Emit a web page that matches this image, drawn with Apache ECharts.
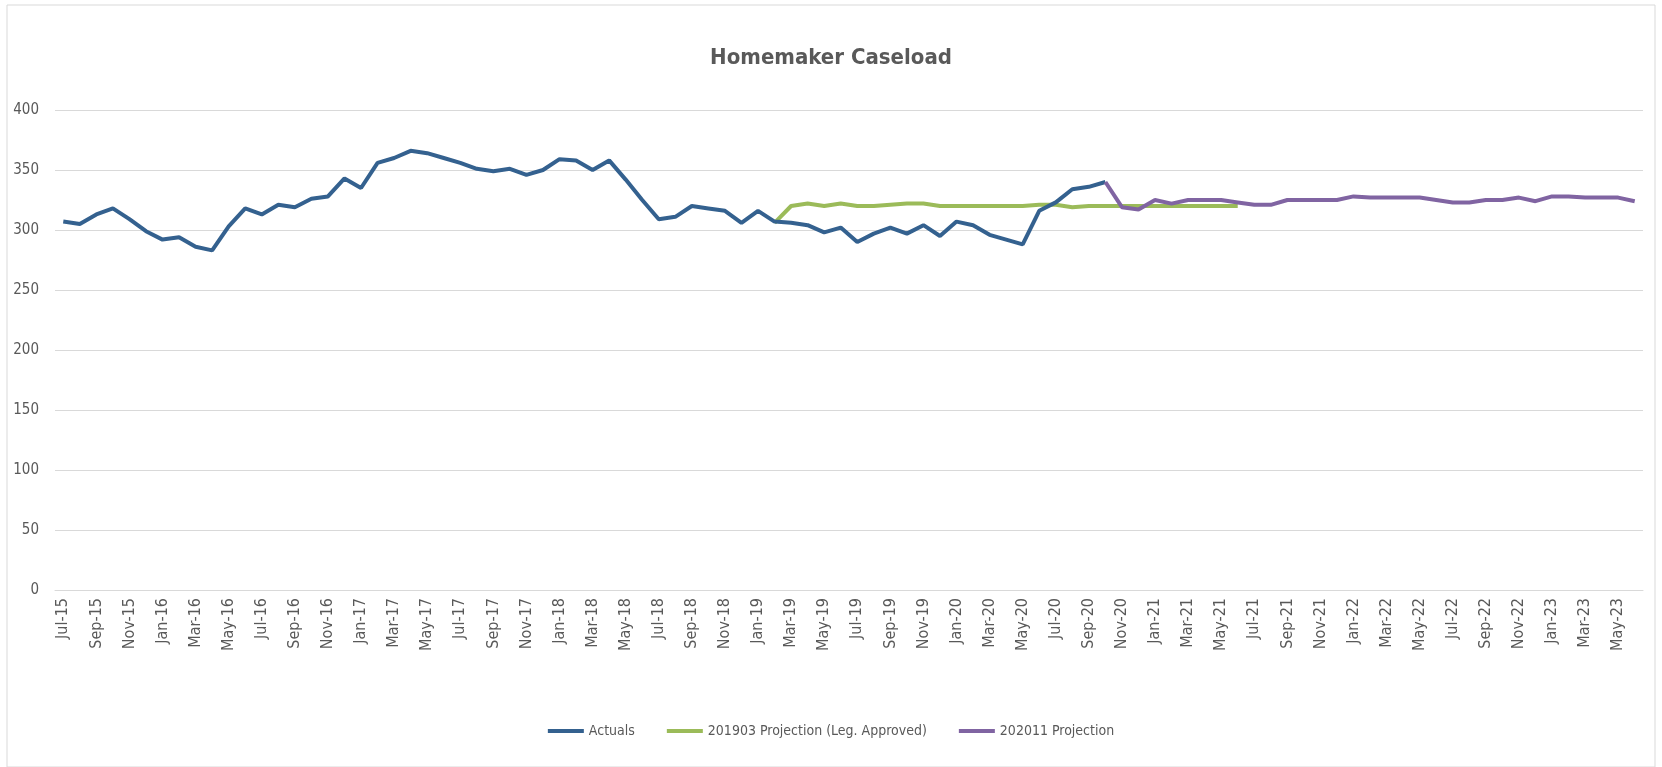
<!DOCTYPE html>
<html>
<head>
<meta charset="utf-8">
<script src="https://cdn.jsdelivr.net/npm/echarts@6/dist/echarts.min.js"></script>
<style>
  html,body{margin:0;padding:0;background:#fff;}
  #main{width:1662px;height:767px;}
</style>
</head>
<body>
<div id="main"></div>
<script>
// months Jul-15 .. Jun-23
let monthNames = ["Jan","Feb","Mar","Apr","May","Jun","Jul","Aug","Sep","Oct","Nov","Dec"]
let months = []
for (let y = 15; y <= 23; y++) {
  for (let m = 0; m < 12; m++) {
    if (y == 15 && m < 6) continue
    if (y == 23 && m > 5) continue
    months.push(monthNames[m] + "-" + y)
  }
}

// Jul-15 .. Oct-20
let actuals = [307,305,313,318,309,299,292,294,286,283,303,318,313,321,319,326,328,343,335,356,
  360,366,364,360,356,351,349,351,346,350,359,358,350,358,342,325,309,311,320,318,
  316,306,316,307,306,304,298,302,290,297,302,297,304,295,307,304,296,292,288,316,
  323,334,336,340]

// Feb-19 .. Jun-21
let proj201903 = [306,320,322,320,322,320,320,321,322,322,320,320,320,320,320,320,321,321,319,320,
  320,320,320,320,320,320,320,320,320]

// Oct-20 .. Jun-23
let proj202011 = [340,319,317,325,322,325,325,325,323,321,321,325,325,325,325,328,327,327,327,327,
  325,323,323,325,325,327,324,328,328,327,327,327,324]

let yTicks = [0,50,100,150,200,250,300,350,400]

function pad(arr, start) {
  let out = new Array(months.length).fill(null)
  arr.forEach((v, i) => out[start + i] = v)
  return out
}

let font = "'Liberation Sans Narrow','DejaVu Sans Condensed',sans-serif"

var myChart = echarts.init(document.getElementById('main'))

var option = {
  animation: false,
  title: {
    text: 'Homemaker Caseload',
    left: 'center',
    top: 42,
    textStyle: { fontFamily: font, fontSize: 22, fontWeight: 'bold', color: '#595959' }
  },
  graphic: [{
    type: 'rect',
    shape: { x: 7, y: 5, width: 1648, height: 762 },
    style: { fill: 'none', stroke: '#d9d9d9', lineWidth: 1 },
    silent: true
  }],
  legend: {
    bottom: 24,
    left: 'center',
    icon: 'rect',
    itemWidth: 36,
    itemHeight: 4,
    itemGap: 32,
    textStyle: { fontFamily: font, fontSize: 14, color: '#595959' },
    data: ['Actuals', '201903 Projection (Leg. Approved)', '202011 Projection']
  },
  grid: { left: 55, right: 19, top: 110, bottom: 177 },
  xAxis: {
    type: 'category',
    data: months,
    boundaryGap: true,
    axisLine: { lineStyle: { color: '#d9d9d9' } },
    axisTick: { interval: 1, length: 6, lineStyle: { color: '#d9d9d9' } },
    axisLabel: {
      interval: 1, rotate: 90, fontFamily: font, fontSize: 16, color: '#595959', margin: 8
    }
  },
  yAxis: {
    type: 'value',
    min: yTicks[0],
    max: yTicks[yTicks.length - 1],
    interval: 50,
    axisLine: { show: false },
    axisTick: { show: false },
    splitLine: { lineStyle: { color: '#d9d9d9' } },
    axisLabel: { fontFamily: font, fontSize: 15, color: '#595959', margin: 16 }
  },
  series: [
    {
      name: 'Actuals', type: 'line', data: pad(actuals, 0),
      symbol: 'none', color: '#34618f', lineStyle: { width: 4 }, z: 3
    },
    {
      name: '201903 Projection (Leg. Approved)', type: 'line', data: pad(proj201903, 43),
      symbol: 'none', color: '#9bbb59', lineStyle: { width: 4 }, z: 2
    },
    {
      name: '202011 Projection', type: 'line', data: pad(proj202011, 63),
      symbol: 'none', color: '#8064a2', lineStyle: { width: 4 }, z: 4
    }
  ]
}

myChart.setOption(option)
</script>
</body>
</html>
